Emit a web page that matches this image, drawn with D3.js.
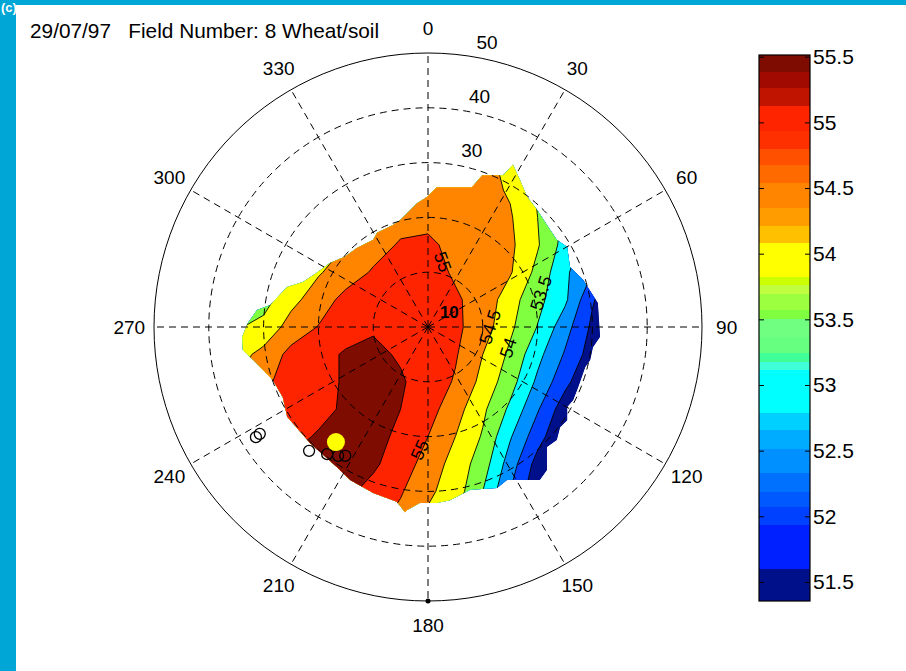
<!DOCTYPE html>
<html>
<head>
<meta charset="utf-8">
<script src="https://cdn.jsdelivr.net/npm/d3@7"></script>
<style>
  body { margin: 0; background: #fff; }
  text { font-family: "Liberation Sans", Arial, sans-serif; }
</style>
</head>
<body>
<div id="chart"></div>
<script>
var title = "29/07/97   Field Number: 8 Wheat/soil";

// sampled field, grid in degrees east / north of centre
var gridX = [-35, -30, -25, -20, -15, -10, -5, 0, 5, 10, 15, 20, 25, 30, 35];
var gridY = [30, 25, 20, 15, 10, 5, 0, -5, -10, -15, -20, -25, -30, -35];
var field = [
  [53.8, 53.95, 54.1, 54.25, 54.4, 54.5, 54.6, 54.65, 54.65, 54.6, 54.4, 53.9, 53.4, 52.8, 52.3],
  [53.85, 54.0, 54.15, 54.3, 54.45, 54.6, 54.7, 54.75, 54.72, 54.65, 54.45, 53.95, 53.4, 52.8, 52.3],
  [53.85, 54.05, 54.2, 54.35, 54.5, 54.65, 54.82, 54.85, 54.8, 54.72, 54.55, 54.0, 53.4, 52.8, 52.3],
  [53.8, 54.0, 54.2, 54.35, 54.5, 54.8, 55.05, 55.1, 54.85, 54.75, 54.6, 54.05, 53.3, 52.7, 52.2],
  [53.9, 54.1, 54.3, 54.45, 54.75, 55.05, 55.2, 55.15, 54.95, 54.75, 54.55, 53.85, 53.1, 52.5, 52.0],
  [53.75, 53.8, 54.35, 54.75, 55.15, 55.3, 55.35, 55.25, 55.05, 54.85, 54.2, 53.65, 53.1, 52.05, 51.5],
  [53.95, 54.15, 54.7, 55.02, 55.3, 55.45, 55.45, 55.3, 55.1, 54.75, 54.1, 53.48, 52.7, 51.9, 51.4],
  [54.3, 54.65, 55.15, 55.35, 55.55, 55.6, 55.45, 55.3, 55.05, 54.5, 53.9, 53.15, 52.45, 51.75, 51.2],
  [54.5, 54.9, 55.2, 55.35, 55.55, 55.7, 55.55, 55.3, 54.95, 54.35, 53.7, 52.9, 52.15, 51.45, 51.0],
  [54.7, 55.1, 55.3, 55.35, 55.58, 55.7, 55.5, 55.2, 54.7, 54.1, 53.4, 52.55, 51.7, 51.1, 50.7],
  [55.0, 55.25, 55.35, 55.55, 55.7, 55.65, 55.4, 55.0, 54.5, 53.95, 53.05, 52.2, 51.5, 51.0, 50.6],
  [55.2, 55.45, 55.6, 55.7, 55.7, 55.58, 55.25, 54.8, 54.3, 53.75, 52.75, 51.8, 51.2, 50.8, 50.5],
  [55.3, 55.5, 55.6, 55.65, 55.6, 55.35, 55.05, 54.6, 54.25, 53.5, 52.5, 51.6, 51.0, 50.6, 50.3],
  [55.35, 55.5, 55.55, 55.5, 55.4, 55.15, 54.85, 54.4, 53.95, 53.1, 52.2, 51.4, 50.9, 50.5, 50.2]
];

var levels = [51.5, 52, 52.5, 53, 53.5, 54, 54.5, 55, 55.5];
var azTicks = [0, 30, 60, 90, 120, 150, 180, 210, 240, 270, 300, 330];
var rTicks = [10, 20, 30, 40, 50];

var cbTicks = [51.5, 52, 52.5, 53, 53.5, 54, 54.5, 55, 55.5];
var cbMin = 51.355, cbMax = 55.513;
var cbLow = [51.355, 51.602, 51.932, 52.071, 52.186, 52.326, 52.516, 52.656, 52.783, 53.113, 53.176,
  53.240, 53.368, 53.499, 53.570, 53.690, 53.761, 53.824, 54.078, 54.212, 54.347, 54.540, 54.675,
  54.797, 54.936, 55.127, 55.259, 55.386];
var cbColor = ["#00108a", "#0020ff", "#0040ff", "#0058ff", "#0070ff", "#0090ff", "#00acff", "#00d0ff",
  "#00ffff", "#40ffd8", "#40ff98", "#66ff80", "#70ff80", "#80ff40", "#9cff40", "#c0ff40", "#ccff00",
  "#ffff00", "#ffc000", "#ff9c00", "#ff8400", "#ff6a00", "#ff5000", "#ff3000", "#ff2400", "#c01400",
  "#a00a00", "#7f0c00"];

// outline of the measured area (deg east, deg north)
var edge = [
  [-0.2, 23.7], [1.6, 25.5], [8.0, 25.5], [9.9, 27.7], [13.7, 27.7], [15.5, 29.6], [16.8, 26.8],
  [18.1, 23.7], [19.9, 21.4], [21.7, 18.6], [23.5, 15.9], [25.4, 14.6], [25.9, 11.0], [28.3, 8.6],
  [31.0, 4.4], [31.4, -1.8], [30.1, -3.7], [29.6, -6.0], [28.7, -7.3], [27.4, -11.0], [26.5, -13.3],
  [25.4, -14.6], [25.4, -17.0], [24.1, -18.3], [23.5, -20.6], [21.7, -21.9], [21.7, -26.1],
  [20.4, -27.9], [14.4, -27.9], [12.6, -29.4], [7.7, -29.7], [4.0, -31.6], [1.6, -32.1],
  [-1.5, -32.1], [-3.8, -33.4], [-4.2, -33.8], [-5.7, -31.9], [-10.0, -30.3], [-14.2, -27.9],
  [-16.6, -25.6], [-21.5, -21.2], [-25.7, -16.4], [-26.5, -12.8], [-28.3, -9.7], [-31.9, -6.0],
  [-33.8, -4.2], [-33.9, -1.8], [-32.9, 0.7], [-31.2, 3.1], [-28.8, 4.0], [-25.7, 7.3], [-22.8, 8.2],
  [-20.3, 9.9], [-17.9, 11.7], [-15.2, 12.8], [-13.0, 14.4], [-10.0, 15.9], [-9.3, 17.2],
  [-6.4, 18.6], [-5.1, 19.5], [-2.0, 22.6]
];

var viewX = [-31.4, -30.7, -21.7, -18.4, -16.4, -15.1];
var viewY = [-20.1, -19.5, -22.6, -23.2, -23.5, -23.5];
var sun = [-16.8, -21.0];
var edgeDot = [0, -50];

var labelText = ["55", "54.5", "54", "53.5", "55"];
var labelX = [2.7, 11.3, 14.6, 20.6, -1.5];
var labelY = [11.9, 0, -3.8, 6.2, -22.4];
var labelRot = [70, -72, -72, -72, -65];

var width = 906, height = 671;
var cx = 428, cy = 327, rOuter = 274;
var rScale = d3.scaleLinear().domain([0, 50]).range([0, rOuter]);
function px(x) { return cx + rScale(x); }
function py(y) { return cy - rScale(y); }

var svg = d3.select("#chart").append("svg")
  .attr("width", width)
  .attr("height", height);

svg.append("rect").attr("width", width).attr("height", height).attr("fill", "#fff");
svg.append("rect").attr("width", width).attr("height", 5).attr("fill", "#00a6d6");
svg.append("rect").attr("width", 16).attr("height", height).attr("fill", "#00a6d6");
svg.append("text").attr("x", 1).attr("y", 12).attr("fill", "#fff")
  .attr("font-size", 13).attr("font-weight", "bold").text("(c)");

svg.append("text")
  .attr("x", 30).attr("y", 38)
  .attr("font-size", 20.8)
  .style("white-space", "pre")
  .text(title);

// radial labels sit under the filled field
var labAz = 8 * Math.PI / 180;
svg.append("g").selectAll("text")
  .data(rTicks)
  .enter().append("text")
  .attr("x", d => cx + rScale(d + 0.5) * Math.sin(labAz) + 10)
  .attr("y", d => cy - rScale(d + 0.5) * Math.cos(labAz) - 4)
  .attr("font-size", 19)
  .text(d => d);

function bandColor(v) {
  var i = d3.bisectRight(cbLow, v) - 1;
  return cbColor[Math.max(0, i)];
}

var nx = gridX.length, ny = gridY.length;
var sx = gridX[1] - gridX[0], sy = gridY[0] - gridY[1];
var contours = d3.contours().size([nx, ny]).thresholds(levels)(field.flat());
var toScreen = d3.geoTransform({
  point: function(gx, gy) {
    this.stream.point(px(gridX[0] + (gx - 0.5) * sx), py(gridY[0] - (gy - 0.5) * sy));
  }
});
var path = d3.geoPath(toScreen);

var edgeLine = d3.line().x(d => px(d[0])).y(d => py(d[1]));
svg.append("clipPath").attr("id", "area")
  .append("path").attr("d", edgeLine(edge) + "Z");

var fillG = svg.append("g").attr("clip-path", "url(#area)");
fillG.append("path").attr("d", edgeLine(edge) + "Z").attr("fill", bandColor(levels[0]));
fillG.selectAll("path.band")
  .data(contours)
  .enter().append("path")
  .attr("class", "band")
  .attr("d", path)
  .attr("fill", d => bandColor(d.value));
fillG.selectAll("path.iso")
  .data(contours)
  .enter().append("path")
  .attr("class", "iso")
  .attr("d", path)
  .attr("fill", "none")
  .attr("stroke", "#000")
  .attr("stroke-width", 0.9);

// polar grid
var grid = svg.append("g").attr("fill", "none").attr("stroke", "#000");
grid.selectAll("circle")
  .data(rTicks)
  .enter().append("circle")
  .attr("cx", cx).attr("cy", cy)
  .attr("r", d => rScale(d))
  .attr("stroke-width", 1)
  .attr("stroke-dasharray", d => d === 50 ? null : "7,5");
grid.selectAll("line")
  .data(azTicks)
  .enter().append("line")
  .attr("x1", cx).attr("y1", cy)
  .attr("x2", d => cx + rScale(50) * Math.sin(d * Math.PI / 180))
  .attr("y2", d => cy - rScale(50) * Math.cos(d * Math.PI / 180))
  .attr("stroke-width", 1)
  .attr("stroke-dasharray", "7,5");

var rLab = rScale(50) * 1.09;
svg.append("g").selectAll("text")
  .data(azTicks)
  .enter().append("text")
  .attr("x", d => cx + rLab * Math.sin(d * Math.PI / 180))
  .attr("y", d => cy - rLab * Math.cos(d * Math.PI / 180))
  .attr("dy", "0.35em")
  .attr("text-anchor", "middle")
  .attr("font-size", 19)
  .text(d => d);

// contour labels
svg.append("g").selectAll("text")
  .data(labelText)
  .enter().append("text")
  .attr("transform", (d, i) => "translate(" + px(labelX[i]) + "," + py(labelY[i]) + ") rotate(" + labelRot[i] + ")")
  .attr("dy", "0.35em")
  .attr("text-anchor", "middle")
  .attr("font-size", 18)
  .text(d => d);

svg.append("text")
  .attr("x", px(3.9)).attr("y", py(2.7))
  .attr("dy", "0.35em")
  .attr("text-anchor", "middle")
  .attr("font-size", 17)
  .attr("font-weight", "bold")
  .text("10");

// view markers
svg.append("g").selectAll("circle")
  .data(viewX)
  .enter().append("circle")
  .attr("cx", d => px(d))
  .attr("cy", (d, i) => py(viewY[i]))
  .attr("r", 5.5)
  .attr("fill", "none")
  .attr("stroke", "#000")
  .attr("stroke-width", 1.3);
svg.append("circle")
  .attr("cx", px(sun[0])).attr("cy", py(sun[1]))
  .attr("r", 9)
  .attr("fill", "#ffff00");
svg.append("circle")
  .attr("cx", px(edgeDot[0])).attr("cy", py(edgeDot[1]))
  .attr("r", 2.5)
  .attr("fill", "#000");

// colour bar
var cbX = 759, cbW = 51;
var cbScale = d3.scaleLinear().domain([cbMin, cbMax]).range([601, 55]);
var cb = svg.append("g");
cb.selectAll("rect")
  .data(cbLow)
  .enter().append("rect")
  .attr("x", cbX)
  .attr("width", cbW)
  .attr("y", (d, i) => cbScale(i + 1 < cbLow.length ? cbLow[i + 1] : cbMax))
  .attr("height", (d, i) => cbScale(d) - cbScale(i + 1 < cbLow.length ? cbLow[i + 1] : cbMax))
  .attr("fill", (d, i) => cbColor[i])
  .attr("shape-rendering", "crispEdges");
cb.append("rect")
  .attr("x", cbX).attr("y", cbScale(cbMax))
  .attr("width", cbW).attr("height", cbScale(cbMin) - cbScale(cbMax))
  .attr("fill", "none").attr("stroke", "#000").attr("stroke-width", 1.2);

var cbRight = d3.axisRight(cbScale).tickValues(cbTicks).tickSize(-5).tickPadding(3).tickFormat(d3.format(""));
var cbLeft = d3.axisLeft(cbScale).tickValues(cbTicks).tickSize(-5).tickFormat("");
var ra = cb.append("g").attr("transform", "translate(" + (cbX + cbW) + ",0)").call(cbRight);
var la = cb.append("g").attr("transform", "translate(" + cbX + ",0)").call(cbLeft);
ra.select(".domain").remove();
la.select(".domain").remove();
ra.selectAll("text").attr("font-size", 21).attr("font-family", "Liberation Sans, Arial, sans-serif").attr("fill", "#000");
</script>
</body>
</html>
